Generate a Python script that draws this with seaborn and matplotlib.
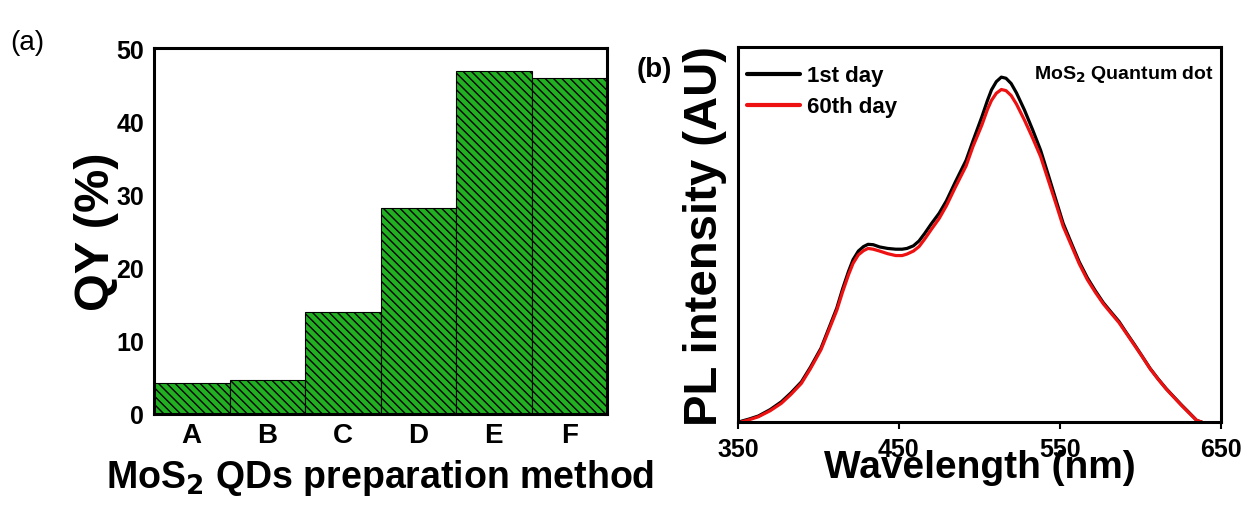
import numpy as np
import pandas as pd
import matplotlib
matplotlib.use("Agg")
import matplotlib.pyplot as plt
import seaborn as sns

# ---- data ----
methods = ["A", "B", "C", "D", "E", "F"]
qy_values = [4.3, 4.7, 13.9, 28.2, 46.8, 45.9]

wl_day1 = [352, 357, 362.7, 370, 377, 383, 389.4, 395, 401.6, 406, 411.4, 415, 418.7, 421.5,
           424.8, 428, 430.8, 434, 438, 443, 448, 452, 455, 459, 462.5, 466, 470, 475,
           479.5, 485, 491.7, 496, 501.5, 505, 507.5, 510.5, 513.6, 516.5, 519.7, 523,
           528, 533, 538, 543, 547.7, 552, 557.4, 562, 567, 572, 577, 582, 586.7, 591,
           596.4, 601, 606, 611, 616, 621, 625.6, 630, 635, 638]
pl_day1 = [0.002, 0.008, 0.016, 0.033, 0.054, 0.078, 0.107, 0.146, 0.197, 0.245, 0.304, 0.355,
           0.402, 0.433, 0.456, 0.468, 0.474, 0.473, 0.467, 0.463, 0.461, 0.461, 0.463, 0.47,
           0.483, 0.503, 0.528, 0.557, 0.59, 0.64, 0.698, 0.75, 0.814, 0.858, 0.886, 0.908,
           0.92, 0.917, 0.903, 0.878, 0.832, 0.78, 0.725, 0.656, 0.59, 0.53, 0.474, 0.427,
           0.385, 0.35, 0.318, 0.292, 0.268, 0.24, 0.206, 0.176, 0.143, 0.115, 0.089, 0.066,
           0.045, 0.026, 0.004, 0.0]

wl_day60 = wl_day1
pl_day60 = [0.0, 0.006, 0.014, 0.03, 0.05, 0.074, 0.103, 0.142, 0.193, 0.24, 0.298, 0.347,
            0.393, 0.423, 0.446, 0.457, 0.463, 0.461, 0.456, 0.449, 0.444, 0.444, 0.448, 0.456,
            0.468, 0.488, 0.513, 0.543, 0.577, 0.626, 0.683, 0.735, 0.792, 0.834, 0.858, 0.877,
            0.887, 0.884, 0.871, 0.848, 0.805, 0.758, 0.708, 0.642, 0.58, 0.522, 0.468, 0.422,
            0.38, 0.346, 0.315, 0.289, 0.265, 0.238, 0.204, 0.175, 0.142, 0.114, 0.088, 0.065,
            0.044, 0.025, 0.004, 0.0]

xticks_b = [350, 450, 550, 650]
yticks_a = [0, 10, 20, 30, 40, 50]

# ---- style ----
sns.set_style("ticks")
plt.rcParams["font.family"] = ["Liberation Sans", "DejaVu Sans"]
plt.rcParams["font.weight"] = "bold"
plt.rcParams["text.color"] = "black"
plt.rcParams["axes.labelcolor"] = "black"
plt.rcParams["xtick.color"] = "black"
plt.rcParams["ytick.color"] = "black"
plt.rcParams["hatch.linewidth"] = 1.0
plt.rcParams["hatch.color"] = "black"

fig = plt.figure(figsize=(12.48, 5.10), dpi=100)
ax1 = fig.add_axes([0.1234, 0.1863, 0.363, 0.7176])
ax2 = fig.add_axes([0.5913, 0.1706, 0.387, 0.735])

# ---- panel (a) ----
df_a = pd.DataFrame({"method": methods, "qy": qy_values})
sns.barplot(data=df_a, x="method", y="qy", ax=ax1, width=1.0,
            color="#22b022", saturation=1, edgecolor="black", linewidth=0.8)
for p in ax1.patches:
    p.set_hatch("\\\\\\\\")
    p.set_facecolor("#22b022")
    p.set_edgecolor("black")
ax1.set_xlim(-0.5, 5.5)
ax1.set_ylim(0, 50)
ax1.set_yticks(yticks_a)
ax1.tick_params(axis="both", length=0, pad=7)
ax1.tick_params(axis="y", labelsize=18)
ax1.tick_params(axis="x", labelsize=20, pad=6)
ax1.set_xlabel("MoS$_\\mathbf{2}$ QDs preparation method", fontsize=27, fontweight="bold", labelpad=6)
ax1.set_ylabel("QY (%)", fontsize=35, fontweight="bold", labelpad=-2)
for s in ax1.spines.values():
    s.set_visible(True)
    s.set_linewidth(2.2)
    s.set_color("black")
for lab in ax1.get_xticklabels() + ax1.get_yticklabels():
    lab.set_fontweight("bold")
fig.text(0.008, 0.915, "(a)", fontsize=20, fontweight="normal", ha="left", va="center")

# ---- panel (b) ----
df1 = pd.DataFrame({"wl": wl_day1, "pl": pl_day1, "series": "1st day"})
df2 = pd.DataFrame({"wl": wl_day60, "pl": pl_day60, "series": "60th day"})
df_b = pd.concat([df1, df2], ignore_index=True)
sns.lineplot(data=df_b, x="wl", y="pl", hue="series", ax=ax2,
             palette={"1st day": "black", "60th day": "#ee1111"},
             linewidth=2.3, sort=False, estimator=None)
ax2.set_xlim(350, 650)
ax2.set_ylim(0, 1)
ax2.set_xticks(xticks_b)
ax2.set_yticks([])
ax2.tick_params(axis="x", length=5, width=1.5, labelsize=18, pad=6, direction="out")
ax2.set_xlabel("Wavelength (nm)", fontsize=28, fontweight="bold", labelpad=-9)
ax2.set_ylabel("PL intensity (AU)", fontsize=34, fontweight="bold", labelpad=8)
for s in ax2.spines.values():
    s.set_visible(True)
    s.set_linewidth(2.2)
    s.set_color("black")
for lab in ax2.get_xticklabels():
    lab.set_fontweight("bold")
leg = ax2.legend(loc="upper left", bbox_to_anchor=(0.0, 0.975), frameon=False,
                 prop={"size": 16, "weight": "bold"},
                 handlelength=2.4, handletextpad=0.3, labelspacing=0.45,
                 borderaxespad=0.2, borderpad=0.2)
for line in leg.get_lines():
    line.set_linewidth(3)
ax2.text(0.985, 0.93, "MoS$_\\mathbf{2}$ Quantum dot", transform=ax2.transAxes,
         ha="right", va="center", fontsize=14, fontweight="bold")
fig.text(0.510, 0.862, "(b)", fontsize=20, fontweight="bold", ha="left", va="center")

fig.savefig("out.png", dpi=100, facecolor="white")
